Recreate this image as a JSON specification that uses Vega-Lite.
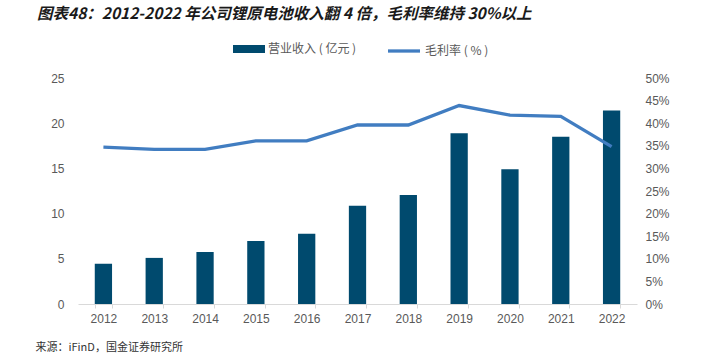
{
  "$schema": "https://vega.github.io/schema/vega-lite/v6.json",
  "width": 559,
  "height": 226,
  "autosize": {"type": "none"},
  "padding": {"left": 78, "top": 78, "right": 70, "bottom": 50},
  "background": "white",
  "title": {
    "text": "图表48：2012-2022 年公司锂原电池收入翻 4 倍，毛利率维持 30%以上",
    "anchor": "start",
    "frame": "group",
    "dx": -41,
    "font": "Noto Sans CJK SC",
    "fontSize": 15.5,
    "fontWeight": "bold",
    "fontStyle": "italic",
    "color": "#1a1a1a",
    "offset": 11
  },
  "config": {
    "view": {"stroke": null},
    "axis": {
      "labelFont": "Liberation Sans",
      "labelFontSize": 12,
      "labelColor": "#595959",
      "grid": false
    },
    "legend": {
      "labelFont": "Noto Sans CJK SC",
      "labelFontSize": 12,
      "labelColor": "#595959"
    }
  },
  "data": {
    "values": [
      {"year": "2012", "revenue": 4.45, "margin": 0.347},
      {"year": "2013", "revenue": 5.1, "margin": 0.342},
      {"year": "2014", "revenue": 5.75, "margin": 0.342},
      {"year": "2015", "revenue": 6.97, "margin": 0.361},
      {"year": "2016", "revenue": 7.78, "margin": 0.361},
      {"year": "2017", "revenue": 10.88, "margin": 0.396},
      {"year": "2018", "revenue": 12.05, "margin": 0.396},
      {"year": "2019", "revenue": 18.9, "margin": 0.439},
      {"year": "2020", "revenue": 14.9, "margin": 0.418},
      {"year": "2021", "revenue": 18.5, "margin": 0.415},
      {"year": "2022", "revenue": 21.4, "margin": 0.348}
    ]
  },
  "encoding": {
    "x": {
      "field": "year",
      "type": "nominal",
      "scale": {"paddingInner": 0.66, "paddingOuter": 0.33},
      "axis": {
        "title": "来源：iFinD，国金证券研究所",
        "titleAnchor": "start",
        "titleAlign": "left",
        "titleX": -43,
        "titleY": 43,
        "titleBaseline": "middle",
        "titleFont": "Noto Sans CJK SC",
        "titleFontSize": 11,
        "titleFontWeight": "normal",
        "titleColor": "#333333",
        "labelAngle": 0,
        "domainColor": "#d9d9d9",
        "tickColor": "#d9d9d9",
        "tickBand": "extent",
        "tickSize": 4,
        "labelPadding": 5
      }
    }
  },
  "layer": [
    {
      "mark": {"type": "bar"},
      "encoding": {
        "y": {
          "field": "revenue",
          "type": "quantitative",
          "scale": {"domain": [0, 25]},
          "axis": {
            "orient": "left",
            "title": null,
            "values": [0, 5, 10, 15, 20, 25],
            "ticks": false,
            "domain": false,
            "labelPadding": 14
          }
        },
        "fill": {
          "datum": "营业收入 ( 亿元 )",
          "scale": {"range": ["#004A6E"]},
          "legend": {
            "orient": "none",
            "legendX": 155,
            "legendY": -45,
            "title": null,
            "symbolType": "M-1,-0.25H1V0.25H-1Z",
            "symbolSize": 1024,
            "symbolStrokeWidth": 0,
            "labelOffset": 3
          }
        }
      }
    },
    {
      "mark": {"type": "line", "strokeWidth": 3.3},
      "encoding": {
        "y": {
          "field": "margin",
          "type": "quantitative",
          "scale": {"domain": [0, 0.5]},
          "axis": {
            "orient": "right",
            "title": null,
            "format": ".0%",
            "values": [0, 0.05, 0.1, 0.15, 0.2, 0.25, 0.3, 0.35, 0.4, 0.45, 0.5],
            "ticks": false,
            "domain": false,
            "labelPadding": 8
          }
        },
        "stroke": {
          "datum": "毛利率 ( % )",
          "scale": {"range": ["#417DC1"]},
          "legend": {
            "orient": "none",
            "legendX": 308,
            "legendY": -45,
            "title": null,
            "symbolType": "stroke",
            "symbolSize": 1024,
            "symbolStrokeWidth": 3.3,
            "labelOffset": 3
          }
        }
      }
    }
  ],
  "resolve": {"scale": {"y": "independent"}}
}
